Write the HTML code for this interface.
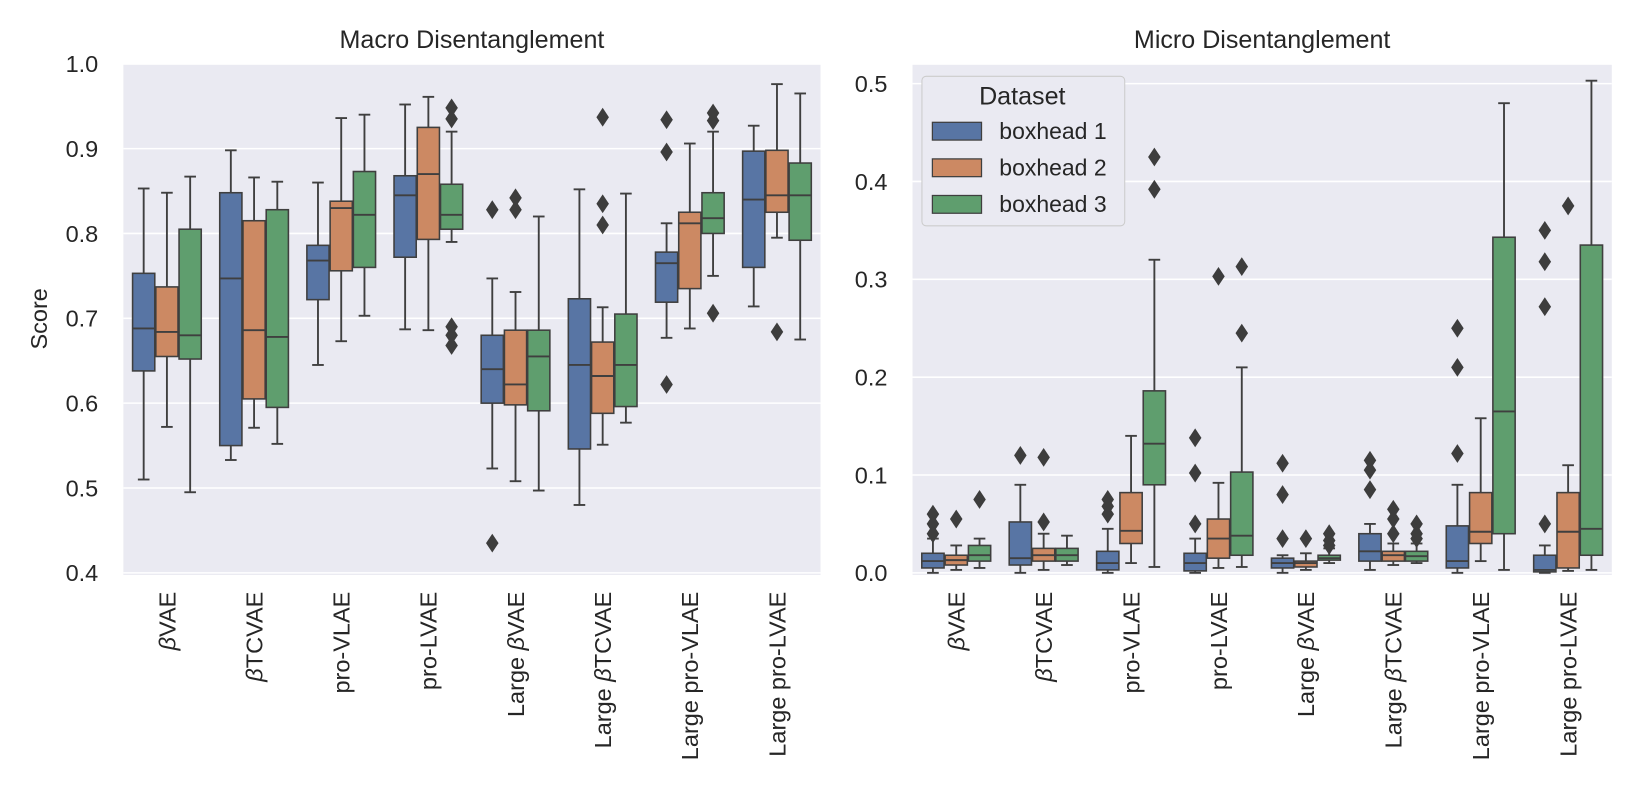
<!DOCTYPE html>
<html><head><meta charset="utf-8"><style>
body{margin:0;background:#fff;}
svg{font-family:"Liberation Sans","DejaVu Sans",sans-serif;display:block;}
</style></head><body>
<svg id="c" width="1639" height="800" viewBox="0 0 1568 765.3" preserveAspectRatio="none" xmlns="http://www.w3.org/2000/svg"></svg>
<script>
const categories=["βVAE","βTCVAE","pro-VLAE","pro-LVAE","Large βVAE","Large βTCVAE","Large pro-VLAE","Large pro-LVAE"];
const catLabels=[["β","VAE"],["β","TCVAE"],["","pro-VLAE"],["","pro-LVAE"],["Large β","VAE"],["Large β","TCVAE"],["","Large pro-VLAE"],["","Large pro-LVAE"]];
const hues=["boxhead 1","boxhead 2","boxhead 3"];
const colors=["#5875a4","#cc8963","#5f9e6e"];
// [whisLo,q1,median,q3,whisHi]
const macroStats=[
[[0.51,0.638,0.688,0.753,0.853],[0.572,0.655,0.684,0.737,0.848],[0.495,0.652,0.68,0.805,0.867]],
[[0.533,0.55,0.747,0.848,0.898],[0.571,0.605,0.686,0.815,0.866],[0.552,0.595,0.678,0.828,0.861]],
[[0.645,0.722,0.768,0.786,0.86],[0.673,0.756,0.83,0.838,0.936],[0.703,0.76,0.822,0.873,0.94]],
[[0.687,0.772,0.845,0.868,0.952],[0.686,0.793,0.87,0.925,0.961],[0.79,0.805,0.822,0.858,0.92]],
[[0.523,0.6,0.64,0.68,0.747],[0.508,0.598,0.622,0.686,0.731],[0.497,0.591,0.655,0.686,0.82]],
[[0.48,0.546,0.645,0.723,0.852],[0.551,0.588,0.632,0.672,0.713],[0.577,0.596,0.645,0.705,0.847]],
[[0.677,0.719,0.765,0.778,0.812],[0.688,0.735,0.812,0.825,0.906],[0.75,0.8,0.818,0.848,0.92]],
[[0.714,0.76,0.84,0.897,0.927],[0.795,0.825,0.845,0.898,0.976],[0.675,0.792,0.845,0.883,0.965]]];
const macroOutliers=[
[[],[],[]],[[],[],[]],[[],[],[]],
[[],[],[0.948,0.935,0.69,0.68,0.668]],
[[0.828,0.435],[0.842,0.828],[]],
[[],[0.937,0.835,0.81],[]],
[[0.934,0.896,0.622],[],[0.942,0.933,0.706]],
[[],[0.684],[]]];
const microStats=[
[[0,0.005,0.012,0.02,0.035],[0.003,0.008,0.013,0.018,0.028],[0.005,0.012,0.018,0.028,0.035]],
[[0,0.008,0.015,0.052,0.09],[0.003,0.012,0.018,0.025,0.04],[0.008,0.012,0.018,0.025,0.038]],
[[0,0.003,0.01,0.022,0.045],[0.01,0.03,0.043,0.082,0.14],[0.006,0.09,0.132,0.186,0.32]],
[[0,0.002,0.01,0.02,0.035],[0.005,0.015,0.035,0.055,0.092],[0.006,0.018,0.038,0.103,0.21]],
[[0,0.005,0.01,0.015,0.018],[0.003,0.006,0.01,0.012,0.02],[0.01,0.013,0.015,0.018,0.025]],
[[0.003,0.012,0.022,0.04,0.05],[0.008,0.012,0.018,0.022,0.03],[0.01,0.012,0.017,0.022,0.03]],
[[0,0.005,0.012,0.048,0.09],[0.012,0.03,0.042,0.082,0.158],[0.003,0.04,0.165,0.343,0.48]],
[[0,0.001,0.003,0.018,0.028],[0.002,0.005,0.042,0.082,0.11],[0.003,0.018,0.045,0.335,0.503]]];
const microOutliers=[
[[0.06,0.05,0.04],[0.055],[0.075]],
[[0.12],[0.118,0.052],[]],
[[0.075,0.068,0.06],[],[0.425,0.392]],
[[0.138,0.102,0.05],[0.303],[0.313,0.245]],
[[0.112,0.08,0.035],[0.035],[0.04,0.033,0.028]],
[[0.115,0.105,0.085],[0.065,0.055,0.04],[0.05,0.04,0.035]],
[[0.25,0.21,0.122],[],[]],
[[0.35,0.318,0.272,0.05],[0.375],[]]];
const macroTicks=[0.4,0.5,0.6,0.7,0.8,0.9,1.0];
const microTicks=[0.0,0.1,0.2,0.3,0.4,0.5];

const NS="http://www.w3.org/2000/svg";
const svg=document.getElementById("c");
function mk(tag,attrs,parent){const e=document.createElementNS(NS,tag);for(const k in attrs)e.setAttribute(k,attrs[k]);(parent||svg).appendChild(e);return e;}
const edge="#3f3f3f";
const FS=22.5;
function panel(name,x0,x1,yTop,yBot,vMin,vMax,ticks,stats,outs,title){
  const g=mk("g",{});
  
  
  const y=v=>yBot-(v-vMin)/(vMax-vMin)*(yBot-yTop);
  const bg=mk("rect",{x:x0,y:62,width:x1-x0,height:yBot-62+2,fill:"#eaeaf2"},g);
  
  
  ticks.forEach(t=>{
    const l=mk("line",{x1:x0,x2:x1,y1:y(t),y2:y(t),stroke:"#fff","stroke-width":1.5},g);
    
    
    const tx=mk("text",{x:x0-24,y:y(t)+8,"text-anchor":"end","font-size":FS,fill:"#262626"},g);
    tx.textContent=t.toFixed(1);
    
    
  });
  const cw=(x1-x0)/categories.length, bw=cw*0.8/3;
  categories.forEach((c,i)=>{
    const cx=x0+cw*(i+0.5);
    hues.forEach((h,j)=>{
      const s=stats[i][j]; const bx=cx-cw*0.4+bw*j; const mx=bx+bw/2;
      const bg2=mk("g",{},g);
      
      
      mk("line",{x1:mx,x2:mx,y1:y(s[0]),y2:y(s[1]),stroke:edge,"stroke-width":1.8},bg2);
      mk("line",{x1:mx,x2:mx,y1:y(s[3]),y2:y(s[4]),stroke:edge,"stroke-width":1.8},bg2);
      mk("line",{x1:mx-bw/4,x2:mx+bw/4,y1:y(s[0]),y2:y(s[0]),stroke:edge,"stroke-width":1.8},bg2);
      mk("line",{x1:mx-bw/4,x2:mx+bw/4,y1:y(s[4]),y2:y(s[4]),stroke:edge,"stroke-width":1.8},bg2);
      mk("rect",{x:bx+0.5,y:y(s[3]),width:bw-1,height:Math.max(0.5,y(s[1])-y(s[3])),fill:colors[j],stroke:edge,"stroke-width":1.5},bg2);
      mk("line",{x1:bx+0.5,x2:bx+bw-0.5,y1:y(s[2]),y2:y(s[2]),stroke:edge,"stroke-width":1.8},bg2);
      outs[i][j].forEach(o=>{
        const d=mk("path",{d:`M${mx},${y(o)-9}L${mx+6},${y(o)}L${mx},${y(o)+9}L${mx-6},${y(o)}Z`,fill:"#3d3d3d"},bg2);
        
        
      });
    });
    const lt=mk("text",{transform:`translate(${cx+8},${yBot+18}) rotate(-90)`,"text-anchor":"end","font-size":FS,fill:"#262626"},g);
    const [a,b]=catLabels[i];
    if(a){const t1=mk("tspan",{},lt);t1.textContent=a.replace("β","");const t2=mk("tspan",{"font-style":"italic"},lt);t2.textContent="β";}
    const t3=mk("tspan",{},lt);t3.textContent=b;
    
    
  });
  const tt=mk("text",{x:(x0+x1)/2,y:46,"text-anchor":"middle","font-size":24,fill:"#262626"},g);
  tt.textContent=title;
  
  
}
panel("macro-panel",118,785,61,548,0.4,1.0,macroTicks,macroStats,macroOutliers,"Macro Disentanglement");
panel("micro-panel",873,1542,80,548,0,0.5,microTicks,microStats,microOutliers,"Micro Disentanglement");
const yl=mk("text",{transform:"translate(45,305) rotate(-90)","text-anchor":"middle","font-size":FS,fill:"#262626"});
yl.textContent="Score";


// legend
const lg=mk("g",{});


mk("rect",{x:882,y:73,width:194,height:143,rx:4,fill:"#eaeaf2",stroke:"#cccccc"},lg);
const lt=mk("text",{x:978,y:100,"text-anchor":"middle","font-size":24,fill:"#262626"},lg);
lt.textContent="Dataset";
hues.forEach((h,j)=>{
  const e=mk("g",{},lg);
  
  
  mk("rect",{x:892,y:117+j*35,width:47,height:17,fill:colors[j],stroke:edge,"stroke-width":1.2},e);
  const t=mk("text",{x:956,y:133+j*35,"font-size":22,fill:"#262626"},e);
  t.textContent=h;
});
</script>
</body></html>
